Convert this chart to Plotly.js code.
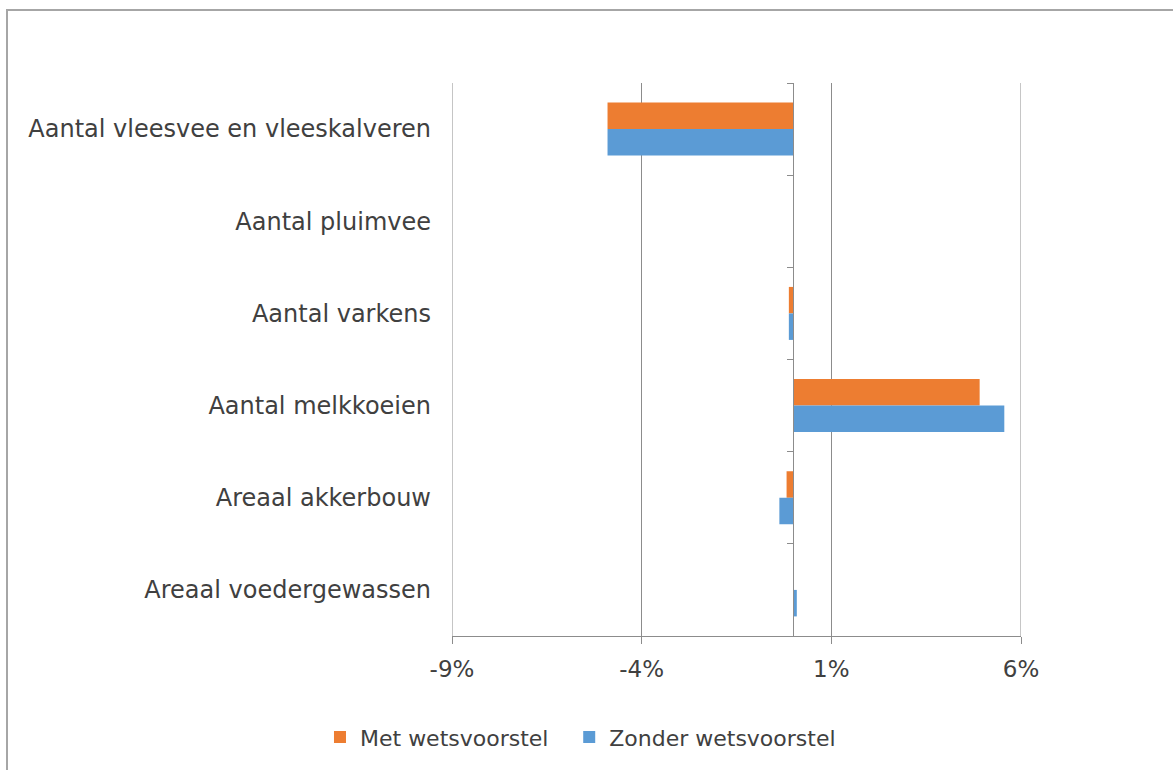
<!DOCTYPE html>
<html>
<head>
<meta charset="utf-8">
<script src="https://cdn.plot.ly/plotly-3.0.1.min.js"></script>
<style>
html,body{margin:0;padding:0;background:#fff;}
#wrap{position:relative;width:1173px;height:770px;}
#chart{width:1173px;height:770px;}
#frameL{position:absolute;left:6px;top:9px;width:0;height:761px;border-left:2px solid #a6a6a6;pointer-events:none;}
#frameT{position:absolute;left:6px;top:9px;width:1167px;height:0;border-top:2px solid #a6a6a6;pointer-events:none;}
</style>
</head>
<body>
<div id="wrap">
<div id="chart"></div>
<div id="frameL"></div>
<div id="frameT"></div>
</div>
<script>
// Categories, top to bottom
const categories = [
  "Aantal vleesvee en vleeskalveren",
  "Aantal pluimvee",
  "Aantal varkens",
  "Aantal melkkoeien",
  "Areaal akkerbouw",
  "Areaal voedergewassen"
];
const metWetsvoorstel = [-4.9, 0, -0.12, 4.91, -0.18, 0];
const zonderWetsvoorstel = [-4.9, 0, -0.12, 5.56, -0.37, 0.09];
const xTickVals = [-9, -4, 1, 6];
const seriesNames = ["Met wetsvoorstel", "Zonder wetsvoorstel"];
const seriesColors = ["#ED7D31", "#5B9BD5"];

const fontFam = "DejaVu Sans, Verdana, sans-serif";
const textColor = "#404040";
const gridColor = "#8c8c8c";

const traces = [
  {type: "bar", orientation: "h", name: seriesNames[0], y: categories, x: metWetsvoorstel,
   marker: {color: seriesColors[0]}, hoverinfo: "skip", legend: "legend"},
  {type: "bar", orientation: "h", name: seriesNames[1], y: categories, x: zonderWetsvoorstel,
   marker: {color: seriesColors[1]}, hoverinfo: "skip", legend: "legend2"},
  {type: "scatter", mode: "none", y: categories, x: categories.map(() => 0), yaxis: "y2",
   showlegend: false, hoverinfo: "skip"}
];

const xMin = xTickVals[0], xMax = xTickVals[xTickVals.length - 1];
const zeroPos = (0 - xMin) / (xMax - xMin);
const catRange = [categories.length - 0.5, -0.5];

const legendBase = {orientation: "h", xanchor: "left", y: -0.183, yanchor: "middle",
  font: {family: fontFam, size: 22, color: textColor}, itemwidth: 30,
  bgcolor: "rgba(0,0,0,0)"};

const layout = {
  width: 1173, height: 770,
  margin: {l: 452, r: 152, t: 83, b: 134},
  paper_bgcolor: "#ffffff", plot_bgcolor: "#ffffff",
  font: {family: fontFam, size: 23, color: textColor},
  barmode: "group", bargap: 0.425, bargroupgap: 0,
  showlegend: true,
  legend: Object.assign({}, legendBase, {x: -0.232}),
  legend2: Object.assign({}, legendBase, {x: 0.206}),
  xaxis: {
    range: [xMin, xMax],
    tickvals: xTickVals, ticktext: xTickVals.map(v => v + "%"),
    showgrid: true, gridcolor: gridColor, gridwidth: 1,
    zeroline: false,
    showline: true, linecolor: gridColor, linewidth: 1,
    ticks: "outside", ticklen: 7, tickcolor: gridColor,
    ticklabelstandoff: 5,
    tickfont: {family: fontFam, size: 23, color: textColor},
    fixedrange: true
  },
  yaxis: {
    type: "category", categoryorder: "array", categoryarray: categories,
    range: catRange,
    showgrid: false, zeroline: false, showline: false, ticks: "",
    ticklabelstandoff: 20,
    tickfont: {family: fontFam, size: 24, color: textColor},
    fixedrange: true
  },
  yaxis2: {
    type: "category", categoryorder: "array", categoryarray: categories,
    range: catRange,
    overlaying: "y", anchor: "free", position: zeroPos, side: "left",
    showgrid: false, zeroline: false, showline: true, linecolor: gridColor, linewidth: 1,
    ticks: "outside", tickson: "boundaries", ticklen: 6, tickcolor: gridColor,
    showticklabels: false, fixedrange: true
  },
  shapes: [xMin, xMax].map(v => ({
    type: "line", xref: "x", yref: "paper", x0: v, x1: v, y0: 0, y1: 1,
    line: {color: gridColor, width: 1}, layer: "below"
  }))
};

Plotly.newPlot("chart", traces, layout, {staticPlot: true, displayModeBar: false});
</script>
</body>
</html>
